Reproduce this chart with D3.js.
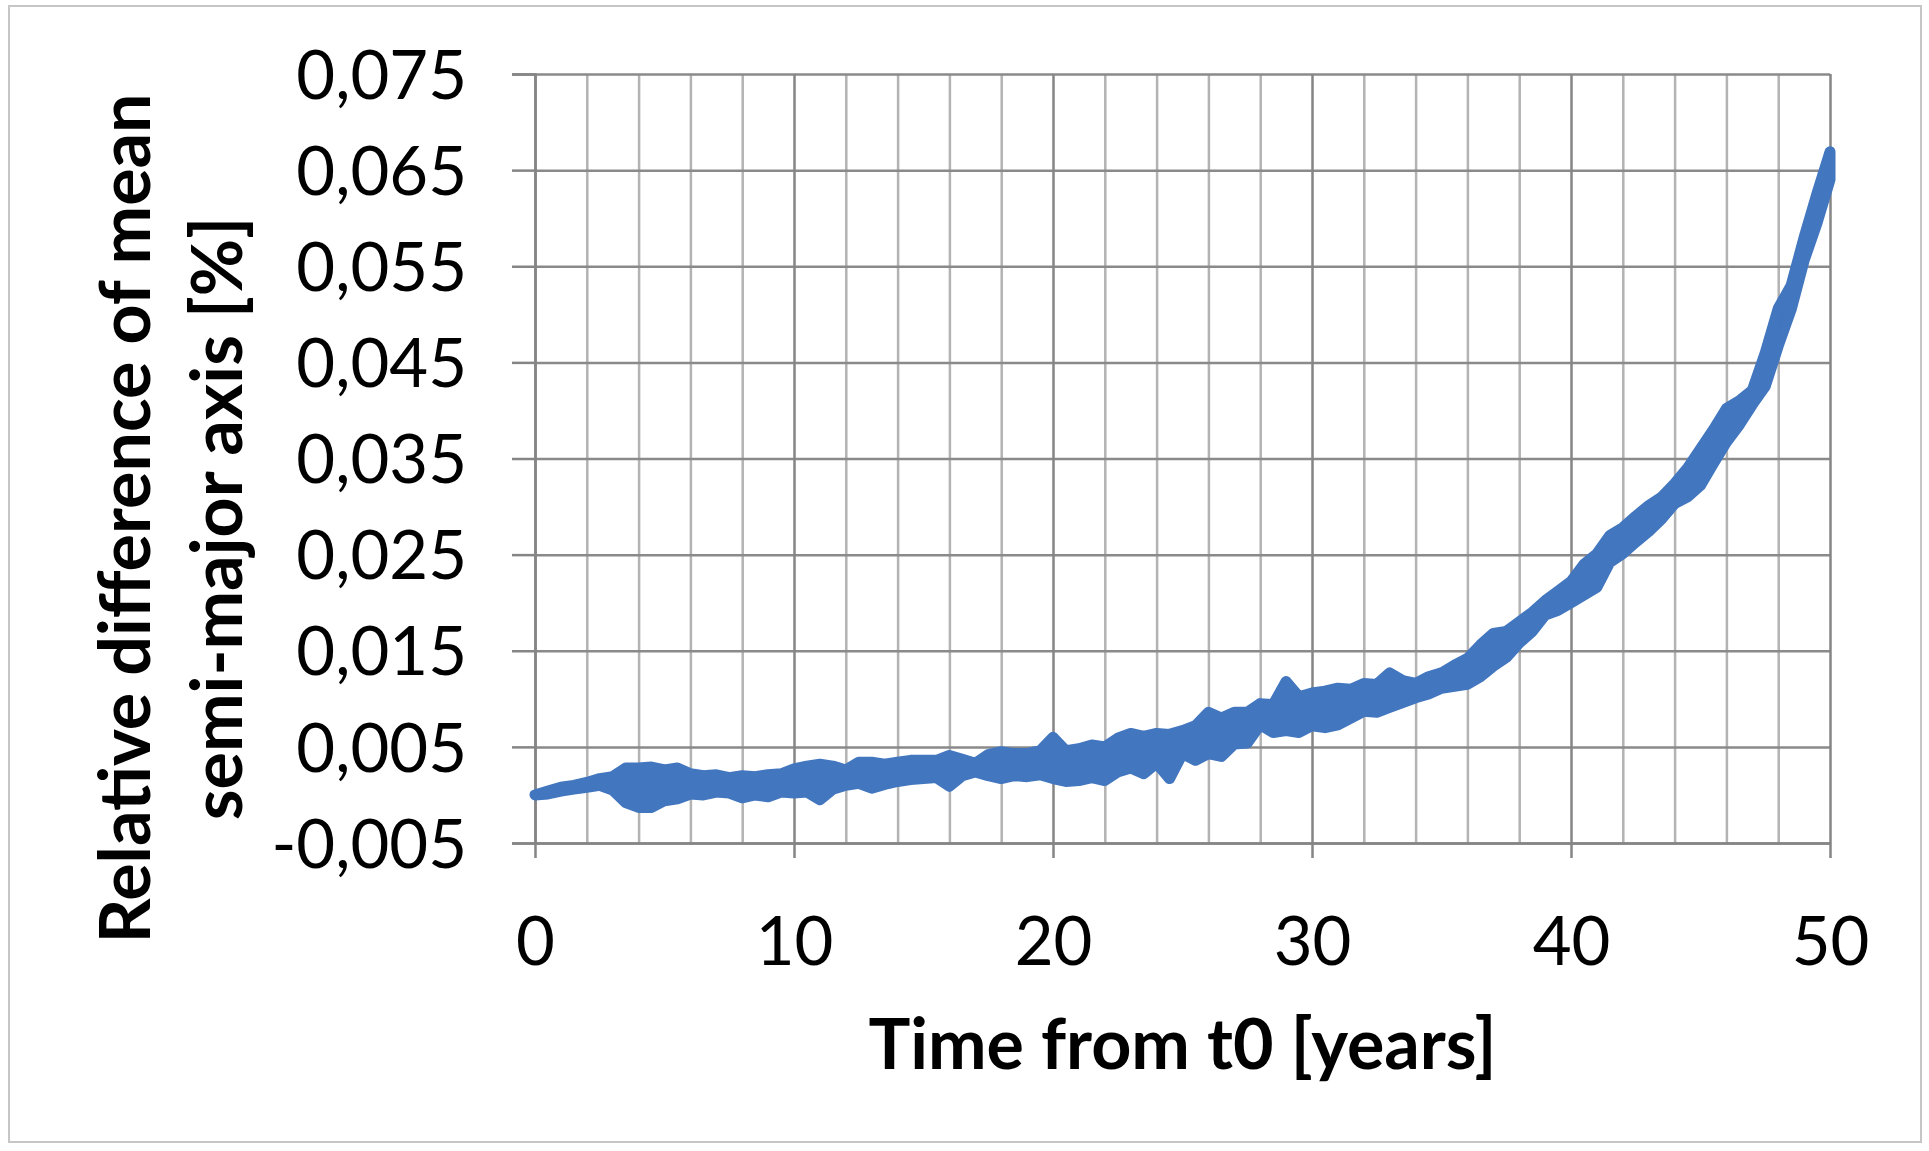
<!DOCTYPE html>
<html>
<head>
<meta charset="utf-8">
<script src="https://cdn.jsdelivr.net/npm/d3@7"></script>
<style>
  html, body { margin: 0; padding: 0; background: #ffffff; }
  svg { display: block; }
  .tick text { font-family: Lato, "Open Sans", sans-serif; fill: #000; }
</style>
</head>
<body>
<script>
// Time axis ticks (years) and value axis ticks (%)
const xTicks = [0, 10, 20, 30, 40, 50];
const xMinorTicks = [2, 4, 6, 8, 12, 14, 16, 18, 22, 24, 26, 28, 32, 34, 36, 38, 42, 44, 46, 48];
const yTicks = [-0.005, 0.005, 0.015, 0.025, 0.035, 0.045, 0.055, 0.065, 0.075];

// Sample times: every half year from t0 to 50 years
const years = d3.range(0, 50.0001, 0.5);

// Relative difference of mean semi-major axis [%]:
// the series oscillates quickly, so it is kept as the upper and lower
// extent of the oscillation at each sample time.
const relDiffHigh = [
  0.0000, 0.0004, 0.0008, 0.0010, 0.0013, 0.0017, 0.0019, 0.0028, 0.0028, 0.0029,
  0.0026, 0.0028, 0.0022, 0.0020, 0.0021, 0.0018, 0.0020, 0.0019, 0.0021, 0.0022,
  0.0027, 0.0030, 0.0032, 0.0030, 0.0026, 0.0034, 0.0034, 0.0032, 0.0034, 0.0036,
  0.0036, 0.0036, 0.0041, 0.0037, 0.0033, 0.0042, 0.0045, 0.0043, 0.0043, 0.0046,
  0.0060, 0.0046, 0.0048, 0.0052, 0.0050, 0.0059, 0.0064, 0.0061, 0.0064, 0.0063,
  0.0067, 0.0072, 0.0086, 0.0080, 0.0086, 0.0086, 0.0095, 0.0094, 0.0118, 0.0102,
  0.0106, 0.0108, 0.0111, 0.0110, 0.0116, 0.0115, 0.0127, 0.0119, 0.0116, 0.0123,
  0.0127, 0.0135, 0.0142, 0.0156, 0.0168, 0.0170, 0.0180, 0.0190, 0.0202, 0.0212,
  0.0222, 0.0240, 0.0251, 0.0270, 0.0278, 0.0290, 0.0301, 0.0310, 0.0324, 0.0340,
  0.0360, 0.0380, 0.0402, 0.0410, 0.0421, 0.0460, 0.0506, 0.0530, 0.0580, 0.0626,
  0.0669
];
const relDiffLow = [
  0.0000, 0.0001, 0.0004, 0.0006, 0.0008, 0.0010, 0.0005, -0.0008, -0.0013, -0.0013,
  -0.0006, -0.0004, 0.0001, 0.0000, 0.0003, 0.0002, -0.0003, 0.0000, -0.0002, 0.0003,
  0.0002, 0.0003, -0.0005, 0.0006, 0.0010, 0.0012, 0.0007, 0.0011, 0.0014, 0.0016,
  0.0017, 0.0018, 0.0009, 0.0020, 0.0024, 0.0020, 0.0017, 0.0020, 0.0019, 0.0021,
  0.0017, 0.0014, 0.0015, 0.0018, 0.0015, 0.0024, 0.0028, 0.0022, 0.0033, 0.0017,
  0.0043, 0.0036, 0.0043, 0.0040, 0.0053, 0.0054, 0.0073, 0.0065, 0.0067, 0.0065,
  0.0072, 0.0070, 0.0073, 0.0080, 0.0087, 0.0086, 0.0091, 0.0096, 0.0101, 0.0105,
  0.0111, 0.0113, 0.0115, 0.0123, 0.0134, 0.0143, 0.0158, 0.0170, 0.0187, 0.0192,
  0.0200, 0.0208, 0.0216, 0.0242, 0.0251, 0.0263, 0.0274, 0.0287, 0.0303, 0.0310,
  0.0322, 0.0345, 0.0367, 0.0385, 0.0406, 0.0425, 0.0467, 0.0505, 0.0556, 0.0595,
  0.0640
];

const xLabel = "Time from t0 [years]";
const yLabelLines = ["Relative difference of mean", "semi-major axis [%]"];

const W = 1929, H = 1151;
const plot = { left: 535, right: 1830, top: 74, bottom: 843 };

const svg = d3.select("body").append("svg")
  .attr("width", W).attr("height", H);

// chart frame
svg.append("rect")
  .attr("x", 9).attr("y", 6)
  .attr("width", 1912).attr("height", 1136)
  .attr("fill", "#ffffff")
  .attr("stroke", "#c6c6c6").attr("stroke-width", 2);

const x = d3.scaleLinear().domain([0, 50]).range([plot.left, plot.right]);
const y = d3.scaleLinear().domain([-0.005, 0.075]).range([plot.bottom, plot.top]);

const locale = d3.formatLocale({ decimal: ",", thousands: ".", grouping: [3], currency: ["", ""], minus: "-" });
const fmtY = locale.format(".3f");

const plotW = plot.right - plot.left;
const plotH = plot.bottom - plot.top;

// minor vertical gridlines (every 2 years)
svg.append("g")
  .attr("transform", `translate(0,${plot.bottom})`)
  .call(d3.axisBottom(x).tickValues(xMinorTicks).tickSize(-plotH).tickFormat(""))
  .call(g => g.select(".domain").remove())
  .call(g => g.selectAll(".tick line").attr("stroke", "#b3b3b3").attr("stroke-width", 2.5));

// horizontal gridlines
svg.append("g")
  .attr("transform", `translate(${plot.left},0)`)
  .call(d3.axisLeft(y).tickValues(yTicks).tickSize(-plotW).tickFormat(""))
  .call(g => g.select(".domain").remove())
  .call(g => g.selectAll(".tick line").attr("stroke", "#8a8a8a").attr("stroke-width", 2.5));

// major vertical gridlines, extended below the plot as tick marks
svg.append("g")
  .attr("transform", `translate(0,${plot.bottom + 15})`)
  .call(d3.axisBottom(x).tickValues(xTicks).tickSize(-(plotH + 15)).tickFormat(""))
  .call(g => g.select(".domain").remove())
  .call(g => g.selectAll(".tick line").attr("stroke", "#858585").attr("stroke-width", 2.5));

// y axis: outer tick marks and labels
svg.append("g")
  .attr("transform", `translate(${plot.left},0)`)
  .call(d3.axisLeft(y).tickValues(yTicks).tickSize(23).tickPadding(45).tickFormat(fmtY))
  .call(g => g.select(".domain").attr("stroke", "#858585").attr("stroke-width", 2.5))
  .call(g => g.selectAll(".tick line").attr("stroke", "#858585").attr("stroke-width", 2.5))
  .call(g => g.selectAll(".tick text").attr("font-size", 67).attr("dy", "0.36em"));

// x axis labels
svg.append("g")
  .attr("transform", `translate(0,${plot.bottom})`)
  .call(d3.axisBottom(x).tickValues(xTicks).tickSize(0).tickPadding(98).tickFormat(d3.format("d")))
  .call(g => g.select(".domain").attr("stroke", "#858585").attr("stroke-width", 2.5))
  .call(g => g.selectAll(".tick text").attr("font-size", 67).attr("dy", "0.36em"));

// data band: the oscillating series drawn between its high and low extent
const band = d3.area()
  .x((d, i) => x(years[i]))
  .y0((d, i) => y(relDiffLow[i]))
  .y1(d => y(d));

svg.append("path")
  .datum(relDiffHigh)
  .attr("fill", "#4276bf")
  .attr("stroke", "#4276bf")
  .attr("stroke-width", 11)
  .attr("stroke-linejoin", "round")
  .attr("stroke-linecap", "round")
  .attr("d", band);

// axis titles
svg.append("text")
  .attr("x", (plot.left + plot.right) / 2)
  .attr("y", 1069)
  .attr("text-anchor", "middle")
  .attr("font-family", "Lato, 'Open Sans', sans-serif")
  .attr("font-weight", "bold")
  .attr("font-size", 70)
  .text(xLabel);

const yTitle = svg.append("text")
  .attr("transform", `translate(150,${(96 + 941) / 2}) rotate(-90)`)
  .attr("text-anchor", "middle")
  .attr("font-family", "Lato, 'Open Sans', sans-serif")
  .attr("font-weight", "bold")
  .attr("font-size", 70);
yTitle.selectAll("tspan")
  .data(yLabelLines)
  .join("tspan")
  .attr("x", 0)
  .attr("dy", (d, i) => i === 0 ? 0 : 92)
  .text(d => d);
</script>
</body>
</html>
